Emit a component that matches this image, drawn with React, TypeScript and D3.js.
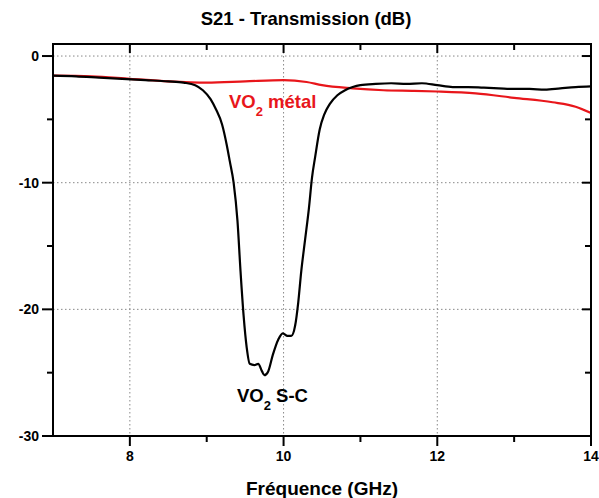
import React from "react";
import * as d3 from "d3";

const freqSC = [7.0, 7.3, 7.6, 7.9, 8.2, 8.5, 8.7, 8.85, 8.95, 9.05, 9.12, 9.2, 9.26, 9.3, 9.35, 9.4, 9.44, 9.48, 9.52, 9.56, 9.62, 9.67, 9.72, 9.75, 9.8, 9.86, 9.93, 9.99, 10.05, 10.1, 10.15, 10.19, 10.23, 10.28, 10.33, 10.37, 10.41, 10.47, 10.53, 10.6, 10.7, 10.8, 10.9, 11.0, 11.2, 11.4, 11.6, 11.8, 12.0, 12.2, 12.4, 12.6, 12.8, 13.0, 13.2, 13.4, 13.6, 13.8, 14.0];
const s21SC = [-1.55, -1.6, -1.7, -1.8, -1.9, -2.0, -2.1, -2.3, -2.7, -3.4, -4.2, -5.4, -7.0, -8.3, -10.0, -13, -17, -20.5, -23, -24.3, -24.4, -24.3, -24.9, -25.2, -24.9, -23.6, -22.4, -21.9, -22.1, -22.1, -21.3, -19.5, -17, -14.5, -12, -9.6, -8.0, -5.8, -4.6, -3.8, -3.1, -2.7, -2.45, -2.3, -2.2, -2.15, -2.2, -2.15, -2.3, -2.45, -2.45, -2.5, -2.55, -2.6, -2.6, -2.65, -2.55, -2.45, -2.4];

const freqMetal = [7.0, 7.5, 8.0, 8.5, 9.0, 9.5, 10.0, 10.3, 10.5, 10.9, 11.3, 11.7, 12.0, 12.5, 13.0, 13.5, 13.8, 14.0];
const s21Metal = [-1.55, -1.6, -1.8, -2.0, -2.1, -2.0, -1.9, -2.05, -2.3, -2.55, -2.7, -2.75, -2.8, -2.95, -3.3, -3.65, -4.0, -4.5];

const xMajor = [8, 10, 12, 14];
const xMinor = [9, 11, 13];
const yMajor = [0, -10, -20, -30];
const yMinor = [-5, -15, -25];
const xGrid = [8, 10, 12];
const yGrid = [0, -10, -20];

const L = 53, R = 591, T = 44, B = 436;
const FONT = "'Liberation Sans', Arial, sans-serif";
const RED = "#e8161b";

export default function App() {
  const x = d3.scaleLinear().domain([7, 14]).range([L, R]);
  const y = d3.scaleLinear().domain([-30, 0.95]).range([B, T]);
  const line = d3.line<[number, number]>().x(d => x(d[0])).y(d => y(d[1])).curve(d3.curveMonotoneX);
  const scPts = freqSC.map((f, i) => [f, s21SC[i]] as [number, number]);
  const mPts = freqMetal.map((f, i) => [f, s21Metal[i]] as [number, number]);

  return (
    <svg width={599} height={498} style={{ position: "absolute", left: 0, top: 0, background: "#fff" }} fontFamily={FONT}>
      <text x={306} y={25} textAnchor="middle" fontSize={18.5} fontWeight="bold">S21 - Transmission (dB)</text>
      {xGrid.map(v => (
        <line key={"gx" + v} x1={x(v)} x2={x(v)} y1={T} y2={B} stroke="#888" strokeWidth={1} strokeDasharray="1.5,2.5" />
      ))}
      {yGrid.map(v => (
        <line key={"gy" + v} x1={L} x2={R} y1={y(v)} y2={y(v)} stroke="#888" strokeWidth={1} strokeDasharray="1.5,2.5" />
      ))}
      <defs>
        <clipPath id="clip"><rect x={L} y={T} width={R - L} height={B - T} /></clipPath>
      </defs>
      <g clipPath="url(#clip)">
        <path d={line(mPts) || ""} fill="none" stroke={RED} strokeWidth={2.2} />
        <path d={line(scPts) || ""} fill="none" stroke="#000" strokeWidth={2.2} />
      </g>
      <rect x={L} y={T} width={R - L} height={B - T} fill="none" stroke="#000" strokeWidth={2} />
      {xMajor.map(v => (
        <line key={"bx" + v} x1={x(v)} x2={x(v)} y1={B} y2={B + 10} stroke="#000" strokeWidth={2} />
      ))}
      {xMinor.map(v => (
        <line key={"bm" + v} x1={x(v)} x2={x(v)} y1={B} y2={B + 6} stroke="#000" strokeWidth={2} />
      ))}
      {xMajor.concat(xMinor).map(v => (
        <line key={"tx" + v} x1={x(v)} x2={x(v)} y1={T} y2={T + (v % 2 === 0 ? 9 : 6)} stroke="#000" strokeWidth={2} />
      ))}
      {yMajor.map(v => (
        <line key={"ly" + v} x1={L - 11} x2={L} y1={y(v)} y2={y(v)} stroke="#000" strokeWidth={2} />
      ))}
      {yMinor.map(v => (
        <line key={"lm" + v} x1={L - 6} x2={L} y1={y(v)} y2={y(v)} stroke="#000" strokeWidth={2} />
      ))}
      {yMajor.concat(yMinor).map(v => (
        <line key={"ry" + v} x1={R - (v % 10 === 0 ? 9 : 6)} x2={R} y1={y(v)} y2={y(v)} stroke="#000" strokeWidth={2} />
      ))}
      {xMajor.map(v => (
        <text key={"xl" + v} x={x(v)} y={461} textAnchor="middle" fontSize={14} fontWeight="bold">{v}</text>
      ))}
      {yMajor.map(v => (
        <text key={"yl" + v} x={39} y={y(v) + 5} textAnchor="end" fontSize={14} fontWeight="bold">{v}</text>
      ))}
      <text x={322} y={495} textAnchor="middle" fontSize={19} fontWeight="bold">Fréquence (GHz)</text>
      <text x={229} y={108} fontSize={18.5} fontWeight="bold" fill={RED}>
        VO<tspan fontSize={13} dy={8}>2</tspan><tspan dy={-8}> métal</tspan>
      </text>
      <text x={237} y={401.5} fontSize={18.5} fontWeight="bold" fill="#000">
        VO<tspan fontSize={13} dy={8}>2</tspan><tspan dy={-8}> S-C</tspan>
      </text>
    </svg>
  );
}
